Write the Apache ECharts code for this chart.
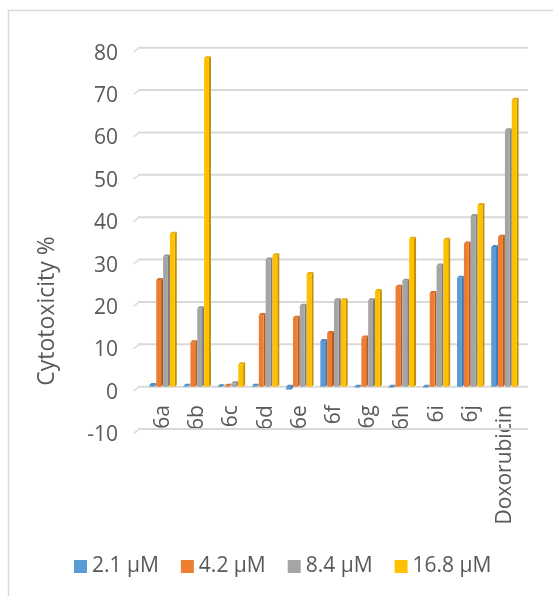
<!DOCTYPE html>
<html>
<head>
<meta charset="utf-8">
<script src="https://cdn.jsdelivr.net/npm/echarts@6/dist/echarts.min.js"></script>
<style>
  html, body { margin: 0; padding: 0; background: #ffffff; }
  #chart { width: 553px; height: 596px; }
</style>
</head>
<body>
<div id="chart"></div>
<script>
// Compounds tested and the four concentrations
const categories = ['6a', '6b', '6c', '6d', '6e', '6f', '6g', '6h', '6i', '6j', 'Doxorubicin'];
const seriesNames = ['2.1 µM', '4.2 µM', '8.4 µM', '16.8 µM'];

// Cytotoxicity % per compound at each concentration
const conc21 = [0.4, 0.2, 0.1, 0.2, -0.7, 10.8, -0.2, -0.2, -0.2, 25.7, 33.0];
const conc42 = [25.2, 10.5, 0.2, 16.9, 16.3, 12.7, 11.6, 23.6, 22.1, 33.8, 35.4];
const conc84 = [30.7, 18.5, 0.8, 30.0, 19.1, 20.4, 20.4, 25.0, 28.6, 40.3, 60.5];
const conc168 = [36.1, 77.5, 5.3, 31.0, 26.6, 20.4, 22.6, 34.9, 34.7, 42.9, 67.7];

const yTicks = [-10, 0, 10, 20, 30, 40, 50, 60, 70, 80];

const seriesValues = [conc21, conc42, conc84, conc168];
// front / side / top shades for the 3D columns
const palette = [
  { front: '#5B9BD5', side: '#3F75A8', top: '#4E89C0' },
  { front: '#ED7D31', side: '#B35A1E', top: '#D66E28' },
  { front: '#A5A5A5', side: '#7A7A7A', top: '#959595' },
  { front: '#FFC000', side: '#BF9000', top: '#E6AC00' }
];

const FONT = '"Open Sans", sans-serif';
const LABEL = '#595959';
const GRID_COLOR = '#D9D9D9';
const DEPTH = 2;

function columnRenderer(sIdx) {
  return function (params, api) {
    const cat = api.value(0);
    const val = api.value(1);
    const base = api.coord([cat, 0]);
    const tip = api.coord([cat, val]);
    const band = api.size([1, 0])[0];
    const group = band * 0.8;
    const slot = group / 4;
    const x0 = base[0] - group / 2 + sIdx * slot;
    const x1 = x0 + slot - DEPTH;
    const yTop = Math.min(base[1], tip[1]);
    const yBot = Math.max(base[1], tip[1]);
    const c = palette[sIdx];
    return {
      type: 'group',
      children: [
        { type: 'polygon', shape: { points: [[x1, yTop], [x1 + DEPTH, yTop - DEPTH], [x1 + DEPTH, yBot - DEPTH], [x1, yBot]] }, style: { fill: c.side } },
        { type: 'rect', shape: { x: x0, y: yTop, width: x1 - x0, height: Math.max(yBot - yTop, 0.6) }, style: { fill: c.front } },
        { type: 'polygon', shape: { points: [[x0, yTop], [x1, yTop], [x1 + DEPTH, yTop - DEPTH], [x0 + DEPTH, yTop - DEPTH]] }, style: { fill: c.top } }
      ]
    };
  };
}

// Back-wall gridline at one tick value, with a short slanted floor stub on the left
function gridRenderer(params, api) {
  const v = api.value(1);
  const band = api.size([1, 0])[0];
  const y = api.coord([0, v])[1];
  const xl = api.coord([0, v])[0] - band / 2 - 8;
  const xr = api.coord([categories.length - 1, v])[0] + band / 2 + 6;
  return {
    type: 'group',
    children: [
      { type: 'rect', shape: { x: xl, y: y - 1, width: xr - xl, height: 2 }, style: { fill: GRID_COLOR } },
      { type: 'polygon', shape: { points: [[xl - 5, y + 4], [xl - 4, y + 5], [xl + 1, y + 1], [xl, y]] }, style: { fill: GRID_COLOR } }
    ]
  };
}

const chart = echarts.init(document.getElementById('chart'), null, { renderer: 'canvas' });

const series = seriesValues.map(function (vals, s) {
  return {
    name: seriesNames[s],
    type: 'custom',
    renderItem: columnRenderer(s),
    itemStyle: { color: palette[s].front },
    encode: { x: 0, y: 1 },
    data: vals.map(function (v, i) { return [i, v]; }),
    z: 3
  };
});

series.unshift({
  name: 'gridlines',
  type: 'custom',
  renderItem: gridRenderer,
  encode: { x: 0, y: 1 },
  data: yTicks.map(function (t) { return [0, t]; }),
  itemStyle: { color: GRID_COLOR },
  silent: true,
  clip: false,
  z: 1
});

chart.setOption({
  animation: false,
  backgroundColor: '#ffffff',
  textStyle: { fontFamily: FONT },
  grid: { left: 146, right: 31, top: 47.7, bottom: 166.9, containLabel: false },
  xAxis: {
    type: 'category',
    data: categories,
    axisLine: { show: false },
    axisTick: { show: false },
    splitLine: { show: false },
    axisLabel: {
      rotate: 90,
      margin: -24,
      interval: 0,
      color: LABEL,
      fontSize: 21,
      fontFamily: FONT
    }
  },
  yAxis: {
    type: 'value',
    min: -10,
    max: 80,
    interval: 10,
    axisLine: { show: false },
    axisTick: { show: false },
    splitLine: { show: false },
    axisLabel: {
      margin: 28,
      color: LABEL,
      fontSize: 21,
      fontFamily: FONT,
      formatter: function (v) { return '{t|' + v + '}'; },
      rich: { t: { padding: [12, 0, 0, 0], fontSize: 21, color: LABEL, fontFamily: FONT } }
    }
  },
  legend: {
    data: seriesNames,
    left: 74,
    top: 556,
    padding: 0,
    itemWidth: 13,
    itemHeight: 13,
    itemGap: 22,
    icon: 'rect',
    textStyle: { color: LABEL, fontSize: 21, fontFamily: FONT }
  },
  graphic: [
    {
      type: 'polyline',
      shape: { points: [[8.5, 700], [8.5, 10.5], [700, 10.5]] },
      style: { stroke: '#D9D9D9', lineWidth: 1.5, fill: null },
      silent: true
    },
    {
      type: 'text',
      x: 47,
      y: 311,
      rotation: Math.PI / 2,
      style: {
        text: 'Cytotoxicity %',
        fill: LABEL,
        font: '23px ' + FONT,
        textAlign: 'center',
        textVerticalAlign: 'middle'
      }
    }
  ],
  series: series
});
</script>
</body>
</html>
